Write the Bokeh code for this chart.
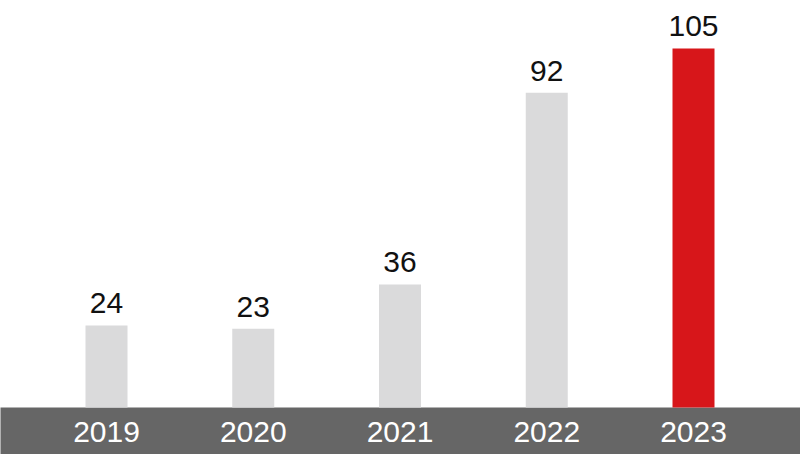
from bokeh.plotting import figure
from bokeh.models import ColumnDataSource, Range1d
from bokeh.core.properties import value
from bokeh.embed import file_html
from bokeh.resources import INLINE

years = ["2019", "2020", "2021", "2022", "2023"]
values = [24, 23, 36, 92, 105]
colors = ["#dadadb", "#dadadb", "#dadadb", "#dadadb", "#d7161a"]

xs = list(range(len(years)))
src = ColumnDataSource(dict(x=xs, top=values, year=years, label=[str(v) for v in values], color=colors))

W, H = 800, 454
px_per_unit = 3.42
base_px = 407  # baseline position from top of canvas
y_start = -(H - base_px) / px_per_unit
y_end = base_px / px_per_unit
px_per_cat = 146.75
x_lo = -106 / px_per_cat
x_hi = x_lo + W / px_per_cat

p = figure(width=W, height=H, output_backend="svg", toolbar_location=None,
           x_range=Range1d(x_lo, x_hi),
           y_range=Range1d(y_start, y_end),
           min_border=0, outline_line_color=None)
p.axis.visible = False
p.grid.visible = False
p.background_fill_color = "white"
p.border_fill_color = "white"

# dark band under the bars
p.quad(left=[x_lo - 1], right=[x_hi + 1], bottom=[y_start - 5], top=[0],
       fill_color="#666666", line_color=None)

p.vbar(x="x", top="top", bottom=0, width=42 / px_per_cat, fill_color="color", line_color=None, source=src)

p.text(x="x", y="top", text="label", source=src, text_align="center",
       text_baseline="alphabetic", y_offset=-22, text_font=value("Liberation Sans"),
       text_font_size="30px", text_color="#111111")

p.text(x="x", y=0, text="year", source=src, text_align="center",
       text_baseline="alphabetic", y_offset=24, text_font=value("Liberation Sans"),
       text_font_size="30px", text_color="white")

open("out.html", "w").write(file_html(p, INLINE))
